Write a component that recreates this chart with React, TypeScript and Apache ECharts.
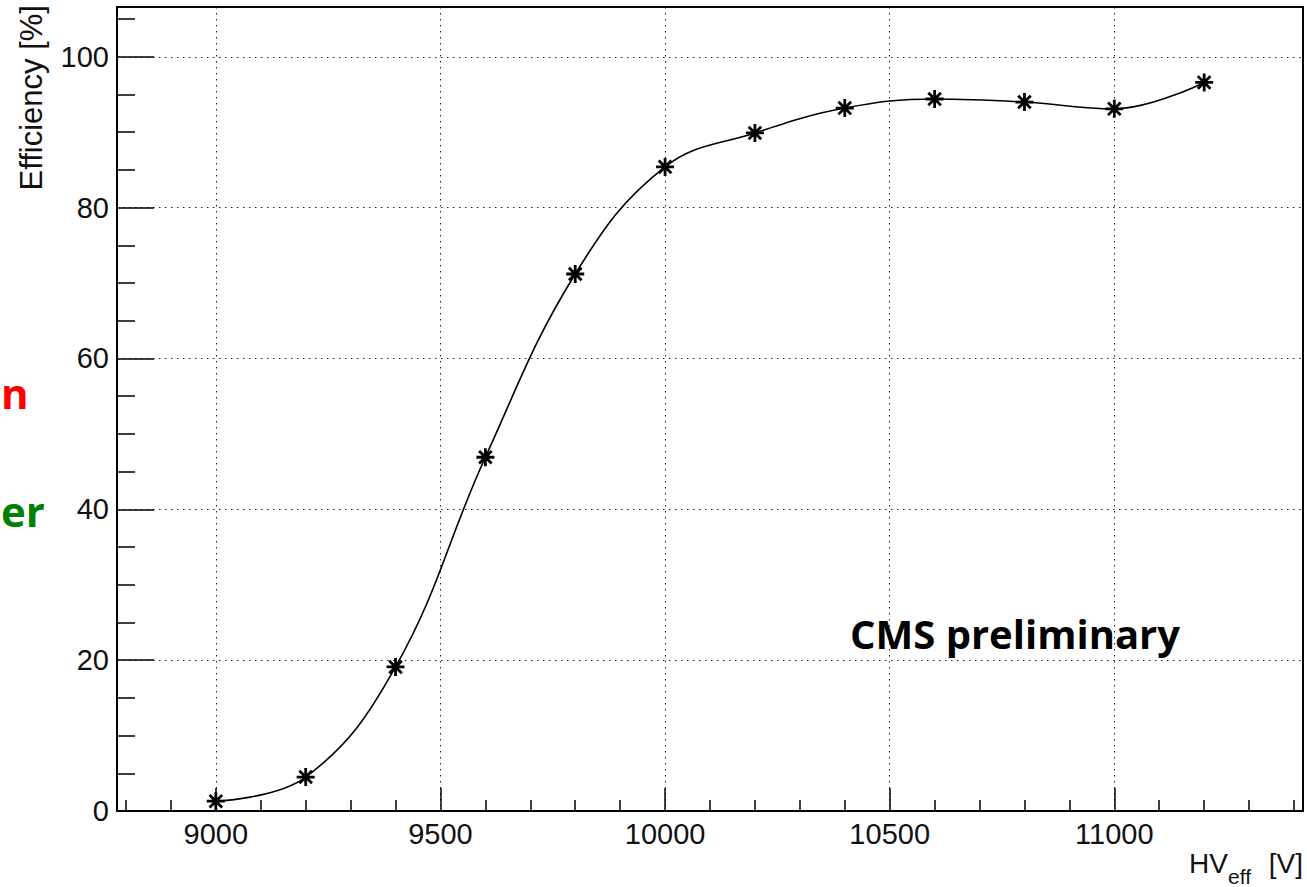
import React, { useEffect, useRef } from "react";
import * as echarts from "echarts";

// Effective high voltage (V) and measured efficiency (%)
const hvEff = [9000, 9200, 9400, 9600, 9800, 10000, 10200, 10400, 10600, 10800, 11000, 11200];
const efficiency = [1.3, 4.5, 19.1, 46.9, 71.2, 85.4, 89.9, 93.2, 94.4, 94.0, 93.1, 96.6];

// Tick positions
const xMajorTicks = [9000, 9500, 10000, 10500, 11000];
const xMinorTicks = [
  8800, 8900, 9100, 9200, 9300, 9400, 9600, 9700, 9800, 9900, 10100, 10200, 10300,
  10400, 10600, 10700, 10800, 10900, 11100, 11200, 11300, 11400,
];
const yMajorTicks = [0, 20, 40, 60, 80, 100];
const yMinorTicks = [5, 10, 15, 25, 30, 35, 45, 50, 55, 65, 70, 75, 85, 90, 95, 105];

const X_MIN = 8780;
const X_MAX = 11420;
const Y_MIN = 0;
const Y_MAX = 106.6;

const FONT = "Liberation Sans, Arial, sans-serif";
const BOLD_FONT = "Open Sans, Liberation Sans, sans-serif";

export default function App() {
  const ref = useRef<HTMLDivElement>(null);

  useEffect(() => {
    if (!ref.current) return;
    const chart = echarts.init(ref.current, null, { renderer: "svg" });

    const dotted = { color: "#222", width: 1, type: [1.5, 4.5] as number[] };
    const plain = (v: number) => String(v);

    chart.setOption({
      animation: false,
      backgroundColor: "#fff",
      grid: {
        left: 117,
        top: 7,
        right: 4,
        bottom: 76,
        show: true,
        borderColor: "#000",
        borderWidth: 2,
        backgroundColor: "transparent",
      },
      xAxis: [
        {
          type: "value",
          min: X_MIN,
          max: X_MAX,
          position: "bottom",
          axisLine: { show: true, onZero: false, lineStyle: { color: "#000", width: 2 } },
          axisTick: {
            show: true,
            inside: true,
            length: 23,
            customValues: xMajorTicks,
            lineStyle: { color: "#000", width: 1.5 },
          },
          axisLabel: {
            customValues: xMajorTicks,
            formatter: plain,
            fontFamily: FONT,
            fontSize: 29,
            color: "#111",
            margin: 8,
          },
          splitLine: { show: true, lineStyle: dotted },
        },
        {
          type: "value",
          min: X_MIN,
          max: X_MAX,
          position: "bottom",
          axisLine: { show: false, onZero: false },
          axisTick: {
            show: true,
            inside: true,
            length: 11,
            customValues: xMinorTicks,
            lineStyle: { color: "#000", width: 1.5 },
          },
          axisLabel: { show: false },
          splitLine: { show: false },
        },
      ],
      yAxis: [
        {
          type: "value",
          min: Y_MIN,
          max: Y_MAX,
          position: "left",
          axisLine: { show: true, onZero: false, lineStyle: { color: "#000", width: 2 } },
          axisTick: {
            show: true,
            inside: true,
            length: 37,
            customValues: yMajorTicks,
            lineStyle: { color: "#000", width: 1.5 },
          },
          axisLabel: {
            customValues: yMajorTicks,
            formatter: plain,
            fontFamily: FONT,
            fontSize: 29,
            color: "#111",
            margin: 8,
          },
          splitLine: { show: true, lineStyle: dotted },
        },
        {
          type: "value",
          min: Y_MIN,
          max: Y_MAX,
          position: "left",
          axisLine: { show: false, onZero: false },
          axisTick: {
            show: true,
            inside: true,
            length: 18,
            customValues: yMinorTicks,
            lineStyle: { color: "#000", width: 1.5 },
          },
          axisLabel: { show: false },
          splitLine: { show: false },
        },
      ],
      series: [
        {
          type: "line",
          xAxisIndex: 0,
          yAxisIndex: 0,
          data: hvEff.map((x, i) => [x, efficiency[i]]),
          smooth: 0.4,
          lineStyle: { color: "#000", width: 1.6 },
          symbol: "path://M10,0L10,20M0,10L20,10M3,3L17,17M3,17L17,3",
          symbolSize: 18,
          itemStyle: { color: "#000", borderColor: "#000", borderWidth: 2.8 },
          z: 5,
        },
      ],
      graphic: [
        {
          type: "text",
          x: 31,
          y: 5,
          rotation: Math.PI / 2,
          style: {
            text: "Efficiency [%]",
            fontFamily: FONT,
            fontSize: 31,
            fill: "#111",
            align: "right",
            verticalAlign: "middle",
          },
        },
        {
          type: "text",
          x: 1228,
          y: 863,
          style: {
            text: "HV",
            fontFamily: FONT,
            fontSize: 28,
            fill: "#111",
            align: "right",
            verticalAlign: "middle",
          },
        },
        {
          type: "text",
          x: 1228,
          y: 876,
          style: {
            text: "eff",
            fontFamily: FONT,
            fontSize: 21,
            fill: "#111",
            align: "left",
            verticalAlign: "middle",
          },
        },
        {
          type: "text",
          x: 1303,
          y: 863,
          style: {
            text: "[V]",
            fontFamily: FONT,
            fontSize: 28,
            fill: "#111",
            align: "right",
            verticalAlign: "middle",
          },
        },
        {
          type: "text",
          x: 850,
          y: 633,
          z: 10,
          style: {
            text: "CMS preliminary",
            fontFamily: BOLD_FONT,
            fontWeight: "bold",
            fontSize: 40,
            fill: "#000",
            align: "left",
            verticalAlign: "middle",
          },
        },
        {
          type: "text",
          x: 1,
          y: 392,
          style: {
            text: "n",
            fontFamily: BOLD_FONT,
            fontWeight: "bold",
            fontSize: 42,
            fill: "#ff0000",
            align: "left",
            verticalAlign: "middle",
          },
        },
        {
          type: "text",
          x: 1,
          y: 510,
          style: {
            text: "er",
            fontFamily: BOLD_FONT,
            fontWeight: "bold",
            fontSize: 42,
            fill: "#008000",
            align: "left",
            verticalAlign: "middle",
          },
        },
      ],
    });

    return () => chart.dispose();
  }, []);

  return (
    <div
      ref={ref}
      style={{ position: "fixed", left: 0, top: 0, width: 1307, height: 887 }}
    />
  );
}
